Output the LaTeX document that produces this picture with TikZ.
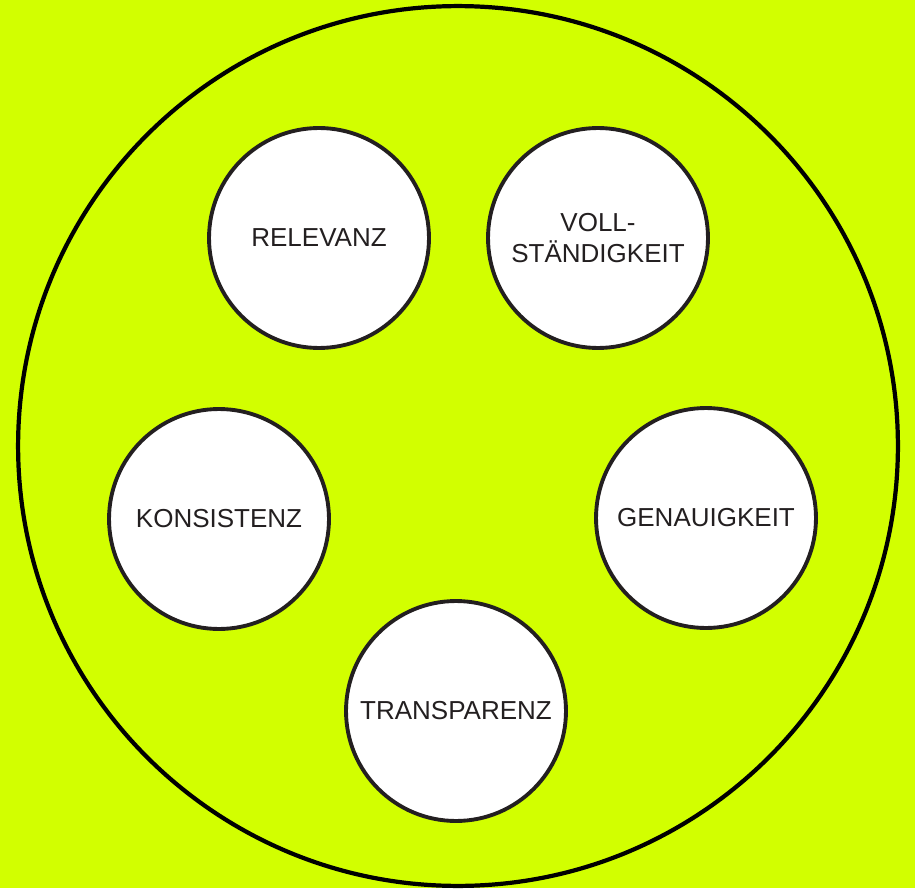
\documentclass[tikz,border=0pt]{standalone}
\usepackage{fontspec}
\setmainfont{Liberation Sans}
\definecolor{limebg}{RGB}{210,255,0}
\definecolor{inkgray}{RGB}{35,31,32}
\begin{document}
\begin{tikzpicture}[x=0.02cm,y=-0.02cm,every node/.style={font=\fontsize{14.8pt}{18pt}\selectfont,text=inkgray}]
\tikzset{quality/.style={draw=inkgray,line width=2.2pt,fill=white,circle,minimum size=4.4cm,inner sep=0pt,align=center}}
\fill[limebg] (0,0) rectangle (915,888);
\useasboundingbox (0,0) rectangle (915,888);
\node[draw=black,line width=2.4pt,circle,minimum size=17.6cm,inner sep=0pt] (outer) at (458,446) {};
\foreach \n/\x/\y/\t in {rel/319/238/RELEVANZ,voll/598/238/{VOLL-\\STÄNDIGKEIT},kons/219/519/KONSISTENZ,gen/706/518/GENAUIGKEIT,trans/456/711/TRANSPARENZ} \node[quality] (\n) at (\x,\y) {\t};
\end{tikzpicture}
\end{document}
